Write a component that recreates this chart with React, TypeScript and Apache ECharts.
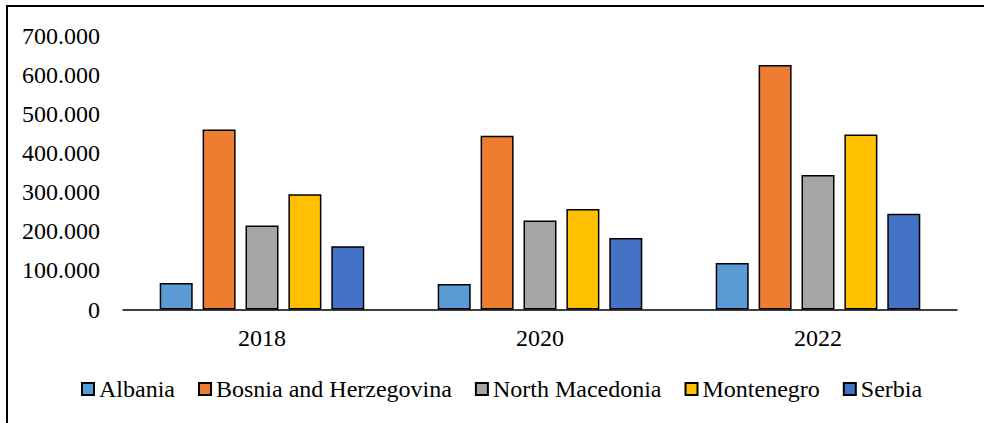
import React, { useEffect, useRef } from "react";
import * as echarts from "echarts";

const categories = ["2018", "2020", "2022"];
const seriesNames = ["Albania", "Bosnia and Herzegovina", "North Macedonia", "Montenegro", "Serbia"];
const albania = [68000, 65000, 119000];
const bosnia = [461000, 445000, 626000];
const northMacedonia = [215000, 228000, 344000];
const montenegro = [295000, 257000, 448000];
const serbia = [162000, 183000, 245000];
const colors = ["#5B9BD5", "#ED7D31", "#A5A5A5", "#FFC000", "#4472C4"];

const FONT = "Liberation Serif";

function fmt(v: number): string {
  if (v === 0) return "0";
  const s = String(Math.round(v));
  return s.replace(/\B(?=(\d{3})+(?!\d))/g, ".");
}

export default function App() {
  const ref = useRef<HTMLDivElement>(null);
  useEffect(() => {
    document.body.style.margin = "0";
    const chart = echarts.init(ref.current!, undefined, { renderer: "svg" });
    const values = [albania, bosnia, northMacedonia, montenegro, serbia];
    chart.setOption({
      animation: false,
      backgroundColor: "#fff",
      textStyle: { fontFamily: FONT },
      graphic: [
        {
          type: "rect",
          shape: { x: 7, y: 6, width: 1100, height: 600 },
          style: { fill: "none", stroke: "#000", lineWidth: 2 },
          silent: true,
        },
      ],
      grid: { left: 123, right: 27, top: 36, bottom: 113.5, containLabel: false },
      legend: {
        left: 76,
        top: 372,
        icon: "rect",
        itemWidth: 12,
        itemHeight: 12,
        itemGap: 23,
        textStyle: { fontFamily: FONT, fontSize: 24, color: "#000" },
        data: seriesNames,
      },
      xAxis: {
        type: "category",
        data: categories,
        axisLine: { lineStyle: { color: "#000", width: 1.5 } },
        axisTick: { show: false },
        axisLabel: { fontFamily: FONT, fontSize: 24, color: "#000", margin: 16 },
      },
      yAxis: {
        type: "value",
        min: 0,
        max: 700000,
        interval: 100000,
        axisLine: { show: false },
        axisTick: { show: false },
        splitLine: { show: false },
        axisLabel: { fontFamily: FONT, fontSize: 24, color: "#000", margin: 23, formatter: (v: number) => fmt(v) },
      },
      series: seriesNames.map((name, i) => ({
        name,
        type: "bar",
        data: values[i],
        barWidth: 33,
        barGap: "30%",
        itemStyle: { color: colors[i], borderColor: "#000", borderWidth: 1.5 },
      })),
    });
    return () => chart.dispose();
  }, []);
  return <div ref={ref} style={{ position: "absolute", left: 0, top: 0, width: 984, height: 423 }} />;
}
